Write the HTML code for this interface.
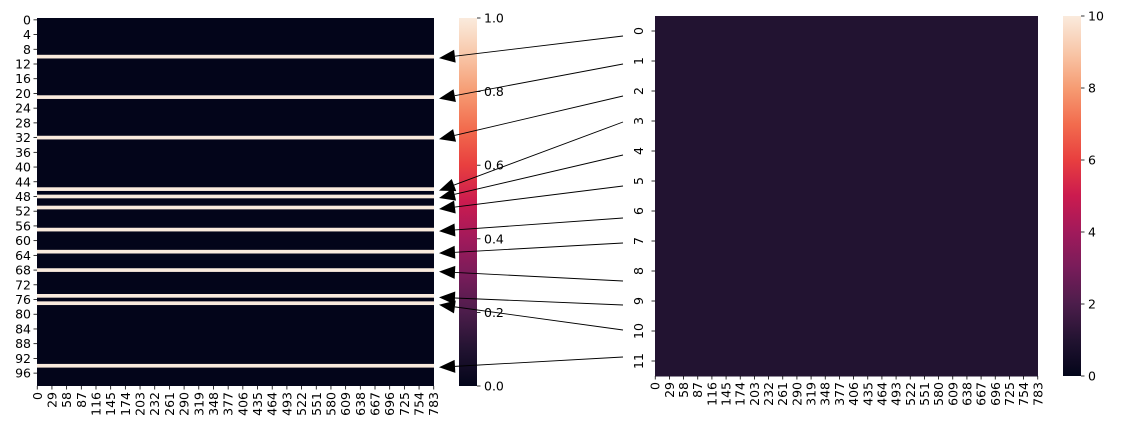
<!DOCTYPE html>
<html><head><meta charset="utf-8">
<style>
body{margin:0;background:#fff;}
svg{display:block;font-family:"DejaVu Sans","Liberation Sans",sans-serif;font-size:12.5px;}
</style></head>
<body>
<svg id="fig" width="1129" height="434" viewBox="0 0 1129 434" xmlns="http://www.w3.org/2000/svg">
<defs>
<linearGradient id="rocket" x1="0" y1="1" x2="0" y2="0">
<stop offset="0" stop-color="#03051a"/>
<stop offset="0.1" stop-color="#221331"/>
<stop offset="0.2" stop-color="#4c1d4b"/>
<stop offset="0.3" stop-color="#781c5a"/>
<stop offset="0.4" stop-color="#a11a5b"/>
<stop offset="0.5" stop-color="#cb1b4f"/>
<stop offset="0.6" stop-color="#e83f3f"/>
<stop offset="0.7" stop-color="#f26c4e"/>
<stop offset="0.8" stop-color="#f69c73"/>
<stop offset="0.9" stop-color="#f8c7a9"/>
<stop offset="1" stop-color="#faebdd"/>
</linearGradient>
</defs>
<g id="left"></g>
<g id="right"></g>
<g id="arrows"></g>
</svg>
<script>
const selectedRows = [10,21,32,46,48,51,57,63,68,75,77,94];
const rightValues = [1,1,1,1,1,1,1,1,1,1,1,1];
const leftYTicks = [0,4,8,12,16,20,24,28,32,36,40,44,48,52,56,60,64,68,72,76,80,84,88,92,96];
const xTicks = [0,29,58,87,116,145,174,203,232,261,290,319,348,377,406,435,464,493,522,551,580,609,638,667,696,725,754,783];
const cb1Ticks = [0.0,0.2,0.4,0.6,0.8,1.0];
const cb2Ticks = [0,2,4,6,8,10];
const arrowStartY = [36,64,96,122,155,186,218,243,281,305,330,357];

const NS="http://www.w3.org/2000/svg";
function mk(tag,attrs,parent){const e=document.createElementNS(NS,tag);for(const k in attrs)e.setAttribute(k,attrs[k]);parent.appendChild(e);return e;}
const stops=[[0,[3,5,26]],[0.1,[34,19,49]],[0.2,[76,29,75]],[0.3,[120,28,90]],[0.4,[161,26,91]],[0.5,[203,27,79]],[0.6,[232,63,63]],[0.7,[242,108,78]],[0.8,[246,156,115]],[0.9,[248,199,169]],[1,[250,235,221]]];
function rocket(t){t=Math.max(0,Math.min(1,t));for(let i=1;i<stops.length;i++){if(t<=stops[i][0]){const a=stops[i-1],b=stops[i];const f=(t-a[0])/(b[0]-a[0]);const c=a[1].map((v,j)=>Math.round(v+(b[1][j]-v)*f));return `rgb(${c})`;}}return 'rgb(250,235,221)';}

// Left heatmap
const L={x0:37,x1:434,y0:18,y1:386,n:100,ncol:784};
const ly=r=>L.y0+(L.y1-L.y0)*r/L.n;
const lx=c=>L.x0+(L.x1-L.x0)*c/L.ncol;
const lg=document.getElementById('left');
let r=mk('rect',{x:L.x0,y:L.y0,width:L.x1-L.x0,height:L.y1-L.y0,fill:rocket(0)},lg);


selectedRows.forEach(row=>{
  const e=mk('rect',{x:L.x0,y:ly(row),width:L.x1-L.x0,height:ly(row+1)-ly(row),fill:rocket(1)},lg);
  
  
});
leftYTicks.forEach(t=>{
  const y=ly(t+0.5);
  mk('line',{x1:L.x0-3.5,x2:L.x0,y1:y,y2:y,stroke:'#000','stroke-width':0.8},lg);
  const e=mk('text',{x:L.x0-6,y:y+4.5,'text-anchor':'end'},lg);e.textContent=t;
  
  
});
function xTickLabels(g,xf,ybase){
  xTicks.forEach(t=>{
    const x=xf(t+0.5);
    mk('line',{x1:x,x2:x,y1:ybase,y2:ybase+3.5,stroke:'#000','stroke-width':0.8},g);
    const e=mk('text',{x:0,y:0,'text-anchor':'end',transform:`translate(${x+4.5},${ybase+6}) rotate(-90)`},g);e.textContent=t;
    
    
  });
}
xTickLabels(lg,lx,L.y1);

function colorbar(g,x,y0,y1,ticks,max,name){
  const cb=mk('rect',{x:x,y:y0,width:18,height:y1-y0,fill:'url(#rocket)'},g);
  
  
  ticks.forEach(t=>{
    const y=y1-(y1-y0)*t/max;
    mk('line',{x1:x+18,x2:x+21.5,y1:y,y2:y,stroke:'#000','stroke-width':0.8},g);
    const e=mk('text',{x:x+25,y:y+4.5},g);e.textContent=(max===1?t.toFixed(1):t);
    
    
  });
}
colorbar(lg,459,18,386,cb1Ticks,1,'left-colorbar');

// Right heatmap
const R={x0:655,x1:1038,y0:16,y1:376,n:12,ncol:784};
const ry=i=>R.y0+(R.y1-R.y0)*i/R.n;
const rx=c=>R.x0+(R.x1-R.x0)*c/R.ncol;
const rg=document.getElementById('right');
rightValues.forEach((v,i)=>{
  const e=mk('rect',{x:R.x0,y:ry(i),width:R.x1-R.x0,height:ry(i+1)-ry(i)+0.5,fill:rocket(v/10)},rg);
  
  
  const y=ry(i+0.5);
  mk('line',{x1:R.x0-3.5,x2:R.x0,y1:y,y2:y,stroke:'#000','stroke-width':0.8},rg);
  const t=mk('text',{x:0,y:0,'text-anchor':'middle',transform:`translate(${R.x0-12},${y}) rotate(-90)`},rg);t.textContent=i;
  
  
});
xTickLabels(rg,rx,R.y1);
colorbar(rg,1063,16,376,cb2Ticks,10,'right-colorbar');

// arrows
const ag=document.getElementById('arrows');
selectedRows.forEach((row,i)=>{
  const sx=623, sy=arrowStartY[i];
  const tx=439, tyy=ly(row+0.5)+1.5;
  const dx=sx-tx, dy=sy-tyy, len=Math.hypot(dx,dy), ux=dx/len, uy=dy/len;
  const bx=tx+ux*16, by=tyy+uy*16;
  const g=mk('g',{},ag);
  
  
  mk('line',{x1:sx,y1:sy,x2:bx,y2:by,stroke:'#000','stroke-width':0.9},g);
  mk('polygon',{points:`${tx},${tyy} ${bx-uy*6.5},${by+ux*6.5} ${bx+uy*6.5},${by-ux*6.5}`,fill:'#000'},g);
});
</script>
</body></html>
